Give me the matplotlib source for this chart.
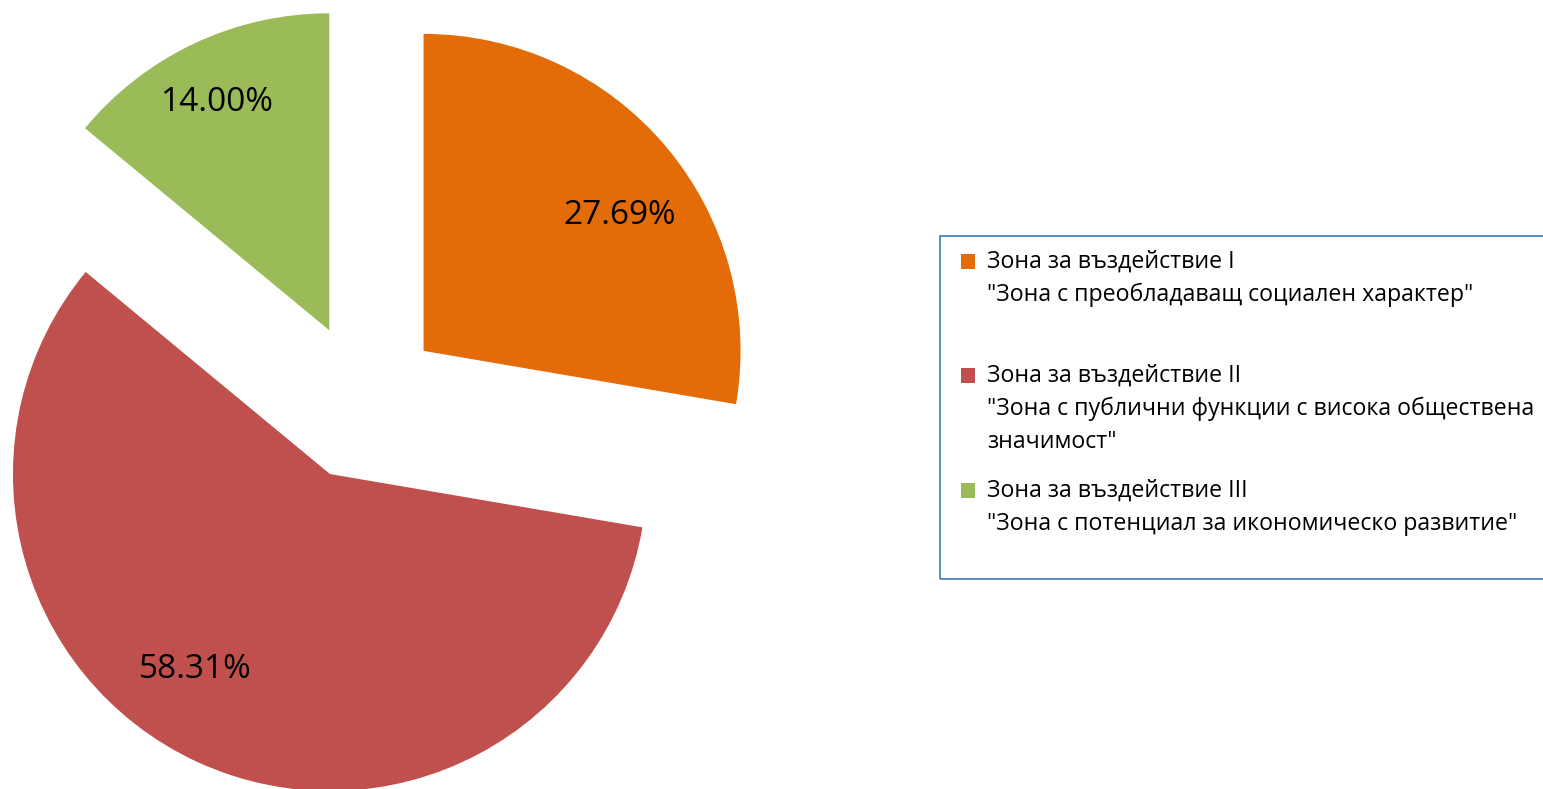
import matplotlib.pyplot as plt
from matplotlib.patches import Rectangle
import numpy as np

zones = ["Зона за въздействие I", "Зона за въздействие II", "Зона за въздействие III"]
descriptions = [
    "\"Зона с преобладаващ социален характер\"",
    "\"Зона с публични функции с висока обществена\nзначимост\"",
    "\"Зона с потенциал за икономическо развитие\"",
]
shares = [27.69, 58.31, 14.00]
colors = ["#E36C09", "#C0504D", "#9BBB59"]

W, H = 1543, 789
R = 317.0          # pie radius in px
cx, cy = 363, 402  # pie centre in px (from top-left)

plt.rcParams['font.family'] = ['Open Sans', 'DejaVu Sans']

fig = plt.figure(figsize=(W / 100, H / 100), dpi=100)
ax = fig.add_axes([0, 0, 1, 1])

wedges, texts, autotexts = ax.pie(
    shares, colors=colors, startangle=90, counterclock=False,
    explode=[0.25] * 3, autopct='%.2f%%', pctdistance=0.78,
    wedgeprops=dict(linewidth=0), textprops=dict(fontsize=24, color='black'))

# nudge the value labels a bit the way the original placed them
shift = [-5.5, -10, 1]
dist = [0.75, 0.75, 0.80]
for w, t, s, d in zip(wedges, autotexts, shift, dist):
    mid = np.deg2rad((w.theta1 + w.theta2) / 2)
    ang = mid + np.deg2rad(s)
    ox, oy = 0.25 * np.cos(mid), 0.25 * np.sin(mid)
    t.set_position((d * np.cos(ang) + ox, d * np.sin(ang) + oy))

ax.set_xlim(-cx / R, (W - cx) / R)
ax.set_ylim(-(H - cy) / R, cy / R)
ax.set_aspect('equal')
ax.axis('off')

# legend box, drawn by hand so the markers sit on the first line
def px(x, y):
    return x / W, 1 - y / H

x0, y0 = px(940, 579)
x1, y1 = px(1550, 236)
fig.patches.append(Rectangle((x0, y0), x1 - x0, y1 - y0, transform=fig.transFigure,
                             fill=False, edgecolor='#4F81BD', linewidth=1.3))

line_h = 33
starts = [262, 376, 491]
for zone, desc, col, y in zip(zones, descriptions, colors, starts):
    sx, sy = px(961, y + 7)
    fig.patches.append(Rectangle((sx, sy), 14 / W, 15 / H, transform=fig.transFigure,
                                 facecolor=col, edgecolor='none'))
    lines = [zone] + desc.split("\n")
    for i, ln in enumerate(lines):
        tx, ty = px(987, y + i * line_h)
        fig.text(tx, ty, ln, fontsize=16.7, va='center', ha='left', color='black')

fig.savefig("out.png", dpi=100)
